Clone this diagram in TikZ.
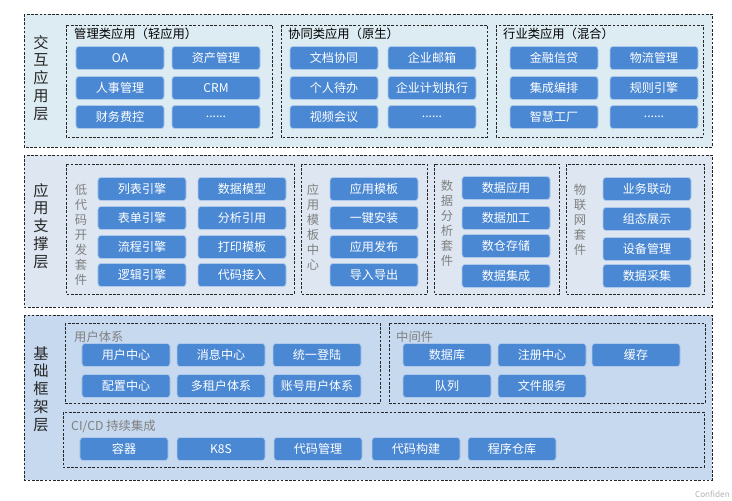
\documentclass[tikz,border=0pt]{standalone}
\usepackage{fontspec}
\setmainfont{Noto Sans CJK SC}
\usepackage{xcolor}
\usepackage{tikz}
\definecolor{btnblue}{RGB}{74, 136, 212}
\definecolor{topfill}{RGB}{221, 236, 242}
\definecolor{midfill}{RGB}{221, 230, 241}
\definecolor{basefill}{RGB}{199, 217, 239}
\newcommand{\moredots}{......}

\begin{document}
\begin{tikzpicture}[x=0.03cm, y=-0.03cm,
    dashbox/.style={draw=black!85, line width=0.8pt, dash pattern=on 2.2pt off 1.4pt},
    btn/.style={fill=btnblue, draw=white!55!btnblue, line width=0.6pt, rounded corners=2.5pt,
        text=white, minimum width=2.64cm, minimum height=0.69cm, inner sep=0pt,
        font=\fontsize{10.3}{12}\selectfont},
    layerlabel/.style={align=center, inner sep=0pt, text=black!85, font=\fontsize{13}{15.2}\selectfont},
    sidelabel/.style={align=center, inner sep=0pt, text=black!50, font=\fontsize{10.5}{12.8}\selectfont},
    grouptitle/.style={anchor=west, inner sep=0pt, font=\fontsize{10.5}{12}\selectfont}]
\useasboundingbox (0,0) rectangle (732,500);

% Interaction layer
\draw[dashbox, fill=topfill] (24,14) rectangle (712,147);
\node[layerlabel] (toplabel) at (41,78) {交\\互\\应\\用\\层};
\draw[dashbox] (66,25) rectangle (272,137);
\draw[dashbox] (281,25) rectangle (487,137);
\draw[dashbox] (496,25) rectangle (703,137);
\node[grouptitle] (mgmt) at (74,34) {管理类应用（轻应用）};
\node[grouptitle] (collab) at (288,34) {协同类应用（原生）};
\node[grouptitle] (industry) at (503,34) {行业类应用（混合）};
\foreach \x/\y/\txt [count=\i] in {120/58/OA, 216/58/资产管理, 120/88/人事管理, 216/88/CRM, 120/117/财务费控, 216/117/\moredots,
    334/58/文档协同, 432/58/企业邮箱, 334/88/个人待办, 432/88/企业计划执行, 334/117/视频会议, 432/117/\moredots,
    554/58/金融信贷, 654/58/物流管理, 554/88/集成编排, 654/88/规则引擎, 554/117/智慧工厂, 654/117/\moredots} {
    \node[btn] (app\i) at (\x,\y) {\txt};
}

% Support layer
\draw[dashbox, fill=midfill] (24,155) rectangle (712,307);
\node[layerlabel] (midlabel) at (41,226) {应\\用\\支\\撑\\层};
\draw[dashbox] (66,164) rectangle (294,294);
\draw[dashbox] (301,164) rectangle (427,294);
\draw[dashbox] (434,164) rectangle (559,294);
\draw[dashbox] (566,164) rectangle (704,294);
\node[sidelabel] (lowcode) at (81,235) {低\\代\\码\\开\\发\\套\\件};
\node[sidelabel] (tpl) at (313,227) {应\\用\\模\\板\\中\\心};
\node[sidelabel] (analysis) at (447,223) {数\\据\\分\\析\\套\\件};
\node[sidelabel] (iot) at (580,220) {物\\联\\网\\套\\件};
\foreach \x/\y/\txt [count=\i] in {142/189/列表引擎, 242/189/数据模型, 142/218/表单引擎, 242/218/分析引用,
    142/247/流程引擎, 242/247/打印模板, 142/275/逻辑引擎, 242/275/代码接入,
    374/189/应用模板, 374/218/一键安装, 374/247/应用发布, 374/275/导入导出,
    506/188/数据应用, 506/218/数据加工, 506/246/数仓存储, 506/276/数据集成,
    647/189/业务联动, 647/219/组态展示, 647/249/设备管理, 647/276/数据采集} {
    \node[btn] (sup\i) at (\x,\y) {\txt};
}

% Base layer
\draw[dashbox, fill=basefill] (24,315) rectangle (712,480);
\node[layerlabel] (baselabel) at (41,389) {基\\础\\框\\架\\层};
\draw[dashbox] (65,323) rectangle (380,403);
\draw[dashbox] (389,323) rectangle (705,403);
\draw[dashbox] (63,412) rectangle (704,467);
\node[grouptitle, text=black!50] (users) at (74,337) {用户体系};
\node[grouptitle, text=black!50] (middleware) at (396,337) {中间件};
\node[grouptitle, text=black!50] (cicd) at (71,426) {CI/CD 持续集成};
\foreach \x/\y/\txt [count=\i] in {126/355/用户中心, 221/355/消息中心, 317/355/统一登陆,
    126/386/配置中心, 221/386/多租户体系, 317/386/账号用户体系,
    447/355/数据库, 542/355/注册中心, 636/355/缓存, 447/386/队列, 542/386/文件服务,
    124/449/容器, 221/449/K8S, 318/449/代码管理, 416/449/代码构建, 512/449/程序仓库} {
    \node[btn] (base\i) at (\x,\y) {\txt};
}

\node[anchor=south east, inner sep=0pt, text=black!30, font=\fontsize{7}{8}\selectfont] (mark) at (730,498) {Confiden};
\end{tikzpicture}
\end{document}
